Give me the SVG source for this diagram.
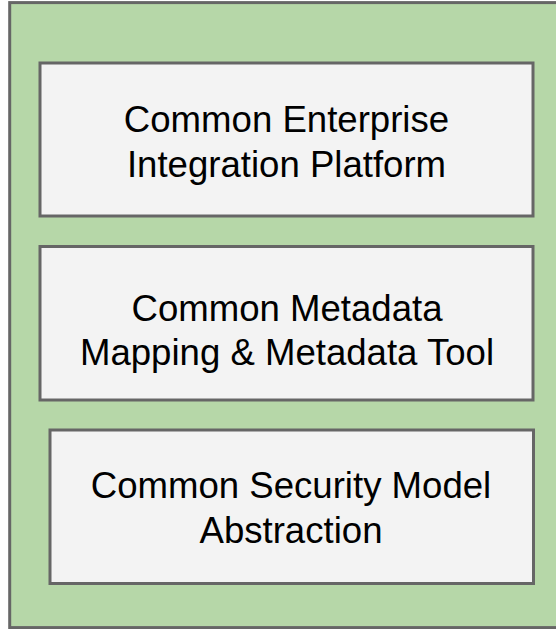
<svg xmlns="http://www.w3.org/2000/svg" width="556" height="629" viewBox="0 0 556 629">
  <style>
    .outer { fill: #b6d7a8; stroke: #666666; stroke-width: 3; }
    .box { fill: #f3f3f3; stroke: #666666; stroke-width: 3; }
    .label { font-family: "Liberation Sans", Arial, sans-serif; font-size: 36.6px; fill: #000000; text-anchor: middle; }
  </style>
  <rect width="556" height="629" fill="#ffffff"/>
  <g id="container">
    <rect class="outer" x="9.7" y="2.6" width="560" height="625"/>
  </g>
  <g id="node-integration">
    <rect class="box" x="40" y="63" width="493" height="153"/>
    <text class="label" x="286.5" y="131.7">Common Enterprise</text>
    <text class="label" x="286.5" y="176.7">Integration Platform</text>
  </g>
  <g id="node-metadata">
    <rect class="box" x="40" y="246.5" width="493" height="153.5"/>
    <text class="label" x="287" y="320.6">Common Metadata</text>
    <text class="label" x="287" y="365.4">Mapping &amp; Metadata Tool</text>
  </g>
  <g id="node-security">
    <rect class="box" x="50" y="430" width="483.5" height="153.5"/>
    <text class="label" x="291" y="498.3">Common Security Model</text>
    <text class="label" x="291" y="542.7">Abstraction</text>
  </g>
  <g id="connectors"></g>
</svg>
